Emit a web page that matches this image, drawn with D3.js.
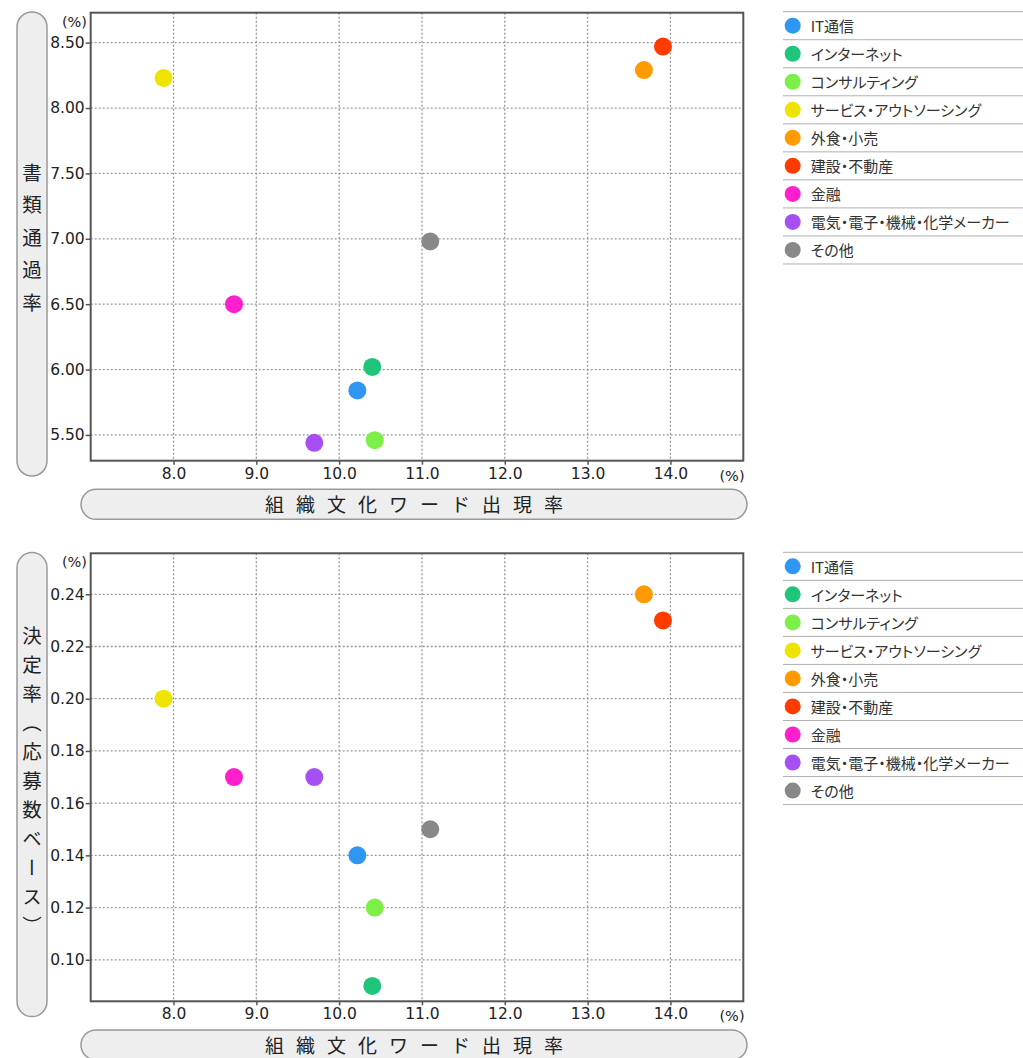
<!DOCTYPE html>
<html><head><meta charset="utf-8">
<script src="https://cdn.jsdelivr.net/npm/d3@7"></script>
<style>
html,body{margin:0;padding:0;background:#fff;}
svg{display:block;}
.palt{font-feature-settings:"palt" 1;}
</style>
</head><body>
<svg id="chart" width="1023" height="1058"></svg>
<script>
// ---- data ----
const industries = ["IT通信","インターネット","コンサルティング","サービス・アウトソーシング","外食・小売","建設・不動産","金融","電気・電子・機械・化学メーカー","その他"];
const colors = ["#2f96f4","#1fc57a","#7cf046","#efe400","#ff9a00","#ff3c00","#ff1fcc","#a64ff4","#888888"];
const wordRate = [10.22, 10.40, 10.43, 7.88, 13.68, 13.91, 8.73, 9.70, 11.10];
const passRate = [5.84, 6.02, 5.46, 8.23, 8.29, 8.47, 6.50, 5.44, 6.98];
const decisionRate = [0.14, 0.09, 0.12, 0.20, 0.24, 0.23, 0.17, 0.17, 0.15];
const xTicks = [8,9,10,11,12,13,14];
const passTicks = [5.5,6.0,6.5,7.0,7.5,8.0,8.5];
const decisionTicks = [0.10,0.12,0.14,0.16,0.18,0.20,0.22,0.24];
const xTitle = "組織文化ワード出現率";
const passTitle = "書類通過率";
const decisionTitle = "決定率（応募数ベース）";

const svg = d3.select("#chart");
const JP = "'Noto Sans CJK JP','Noto Sans',sans-serif";
const NUM = "'DejaVu Sans',sans-serif";

function drawChart(offY, yVals, yDomain, yTicks, yTitle, yTitleCenter, yTitleSpacing) {
  const L = 90.7, R = 743.3, T = 12.7 + offY, B = 460.7 + offY;
  const g = svg.append("g");
  const x = d3.scaleLinear().domain([7, 14.88]).range([L, R]);
  const y = d3.scaleLinear().domain(yDomain).range([B, T]);

  // y title capsule
  g.append("rect").attr("x", 17).attr("y", offY + 12).attr("width", 30).attr("height", 464)
    .attr("rx", 15).attr("ry", 15).attr("fill", "#eeeeee").attr("stroke", "#999").attr("stroke-width", 1.5);
  g.append("text").attr("x", 32).attr("y", offY + yTitleCenter)
    .style("writing-mode", "vertical-rl").attr("text-anchor", "middle")
    .attr("font-family", JP).attr("font-size", 19.5).attr("fill", "#222")
    .attr("letter-spacing", yTitleSpacing).text(yTitle);

  // x title capsule
  g.append("rect").attr("x", 81).attr("y", offY + 489.3).attr("width", 666).attr("height", 30)
    .attr("rx", 15).attr("ry", 15).attr("fill", "#eeeeee").attr("stroke", "#999").attr("stroke-width", 1.5);
  g.append("text").attr("x", 420).attr("y", offY + 503.5)
    .attr("text-anchor", "middle").attr("dominant-baseline", "central")
    .attr("font-family", JP).attr("font-size", 19).attr("fill", "#222")
    .attr("letter-spacing", 12).text(xTitle);

  // grid
  g.append("g").selectAll("line").data(xTicks).join("line")
    .attr("x1", d => x(d)).attr("x2", d => x(d)).attr("y1", T).attr("y2", B)
    .attr("stroke", "#999").attr("stroke-width", 1.3).attr("stroke-dasharray", "2,2");
  g.append("g").selectAll("line").data(yTicks).join("line")
    .attr("x1", L).attr("x2", R).attr("y1", d => y(d)).attr("y2", d => y(d))
    .attr("stroke", "#999").attr("stroke-width", 1.3).attr("stroke-dasharray", "2,2");

  // axes
  const ya = g.append("g").attr("transform", `translate(${L},0)`)
    .call(d3.axisLeft(y).tickValues(yTicks).tickFormat(d3.format(".2f")).tickSize(5).tickPadding(1));
  const xa = g.append("g").attr("transform", `translate(0,${B})`)
    .call(d3.axisBottom(x).tickValues(xTicks).tickFormat(d3.format(".1f")).tickSize(4).tickPadding(3));
  [ya, xa].forEach(a => {
    a.select(".domain").remove();
    a.selectAll("line").attr("stroke", "#555").attr("stroke-width", 1.5);
    a.selectAll("text").attr("font-family", NUM).attr("font-size", 15.5).attr("fill", "#222");
  });

  // frame
  g.append("rect").attr("x", L).attr("y", T).attr("width", R - L).attr("height", B - T)
    .attr("fill", "none").attr("stroke", "#555").attr("stroke-width", 2);

  // unit labels
  g.append("text").attr("x", 87).attr("y", offY + 21.7).attr("text-anchor", "end")
    .attr("dominant-baseline", "central").attr("font-family", NUM).attr("font-size", 14.5).attr("fill", "#222").text("(%)");
  g.append("text").attr("x", 732).attr("y", B + 15).attr("text-anchor", "middle")
    .attr("dominant-baseline", "central").attr("font-family", NUM).attr("font-size", 14.5).attr("fill", "#222").text("(%)");

  // points
  g.append("g").selectAll("circle").data(industries).join("circle")
    .attr("cx", (d, i) => x(wordRate[i])).attr("cy", (d, i) => y(yVals[i]))
    .attr("r", 9).attr("fill", (d, i) => colors[i]);

  // legend
  const lg = g.append("g");
  const top0 = 11.7 + offY, step = 28.03;
  lg.selectAll("line").data(d3.range(industries.length + 1)).join("line")
    .attr("x1", 783).attr("x2", 1023).attr("y1", i => top0 + i * step).attr("y2", i => top0 + i * step)
    .attr("stroke", "#b0b0b0").attr("stroke-width", 1);
  lg.selectAll("circle").data(industries).join("circle")
    .attr("cx", 792.7).attr("cy", (d, i) => top0 + (i + 0.5) * step).attr("r", 8)
    .attr("fill", (d, i) => colors[i]);
  lg.selectAll("text").data(industries).join("text")
    .attr("class", "palt")
    .attr("x", 810.7).attr("y", (d, i) => top0 + (i + 0.5) * step)
    .attr("dominant-baseline", "central").attr("font-family", JP).attr("font-size", 15).attr("fill", "#333")
    .text(d => d);
}

drawChart(0, passRate, [5.303, 8.729], passTicks, passTitle, 244, 13);
drawChart(540.6, decisionRate, [0.0841, 0.2557], decisionTicks, decisionTitle, 245, 9.5);
</script>
</body></html>
